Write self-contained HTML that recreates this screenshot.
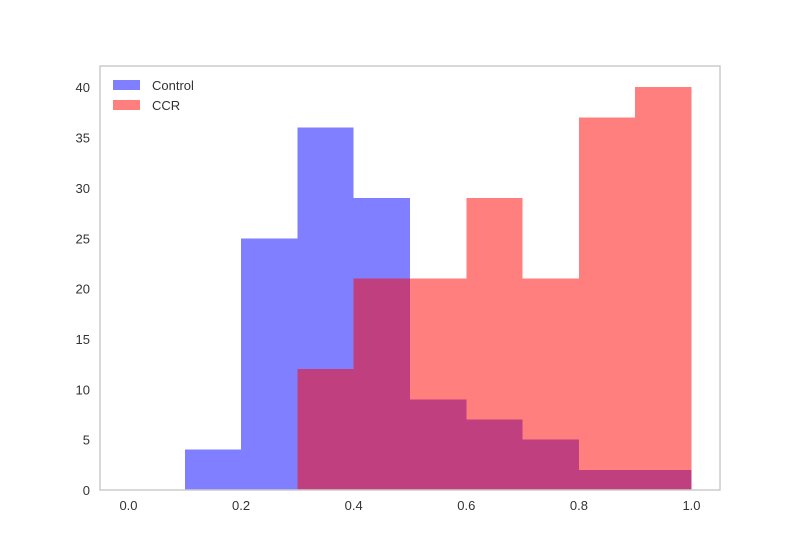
<!DOCTYPE html>
<html><head><meta charset="utf-8"><style>
body{margin:0;background:#fff;}
text{font-family:"Liberation Sans",sans-serif;font-size:13px;fill:#333;}
</style></head><body>
<svg width="800" height="550" xmlns="http://www.w3.org/2000/svg">
<rect x="0" y="0" width="800" height="550" fill="#fff"/>
<g id="bars" shape-rendering="crispEdges"></g>
<rect x="100" y="66" width="620" height="424" fill="none" stroke="#ccc" stroke-width="1.5"/>
<g id="axes"></g>
<g>
<rect x="113" y="80" width="27" height="10" fill="rgba(0,0,255,0.5)"/>
<text x="152" y="90">Control</text>
<rect x="113" y="100" width="27" height="10" fill="rgba(255,0,0,0.5)"/>
<text x="152" y="110">CCR</text>
</g>
</svg>
<script>
const binEdges=[0,0.1,0.2,0.3,0.4,0.5,0.6,0.7,0.8,0.9,1.0];
const controlCounts=[0,4,25,36,29,9,7,5,2,2];
const ccrCounts=[0,0,0,12,21,21,29,21,37,40];
const xTicks=[0,0.2,0.4,0.6,0.8,1.0];
const yTicks=[0,5,10,15,20,25,30,35,40];
const NS="http://www.w3.org/2000/svg";
const xs=v=>128.5+v*563;
const ys=v=>490-v*10.07;
const bars=document.getElementById('bars');
const axes=document.getElementById('axes');
function drawSeries(counts,color,name){
  counts.forEach((c,i)=>{
    if(c<=0)return;
    const r=document.createElementNS(NS,'rect');
    const x0=xs(binEdges[i]),x1=xs(binEdges[i+1]);
    r.setAttribute('x',x0);r.setAttribute('width',x1-x0);
    r.setAttribute('y',ys(c));r.setAttribute('height',ys(0)-ys(c));
    r.setAttribute('fill',color);
    
    
    bars.appendChild(r);
  });
}
drawSeries(controlCounts,'rgba(0,0,255,0.5)','control');
drawSeries(ccrCounts,'rgba(255,0,0,0.5)','ccr');
xTicks.forEach(t=>{
  const tx=document.createElementNS(NS,'text');
  tx.setAttribute('x',xs(t));tx.setAttribute('y',510);tx.setAttribute('text-anchor','middle');
  tx.textContent=t.toFixed(1);
  
  
  axes.appendChild(tx);
});
yTicks.forEach(t=>{
  const tx=document.createElementNS(NS,'text');
  tx.setAttribute('x',90);tx.setAttribute('y',ys(t)+5);tx.setAttribute('text-anchor','end');
  tx.textContent=t;
  
  
  axes.appendChild(tx);
});
</script>
</body></html>
